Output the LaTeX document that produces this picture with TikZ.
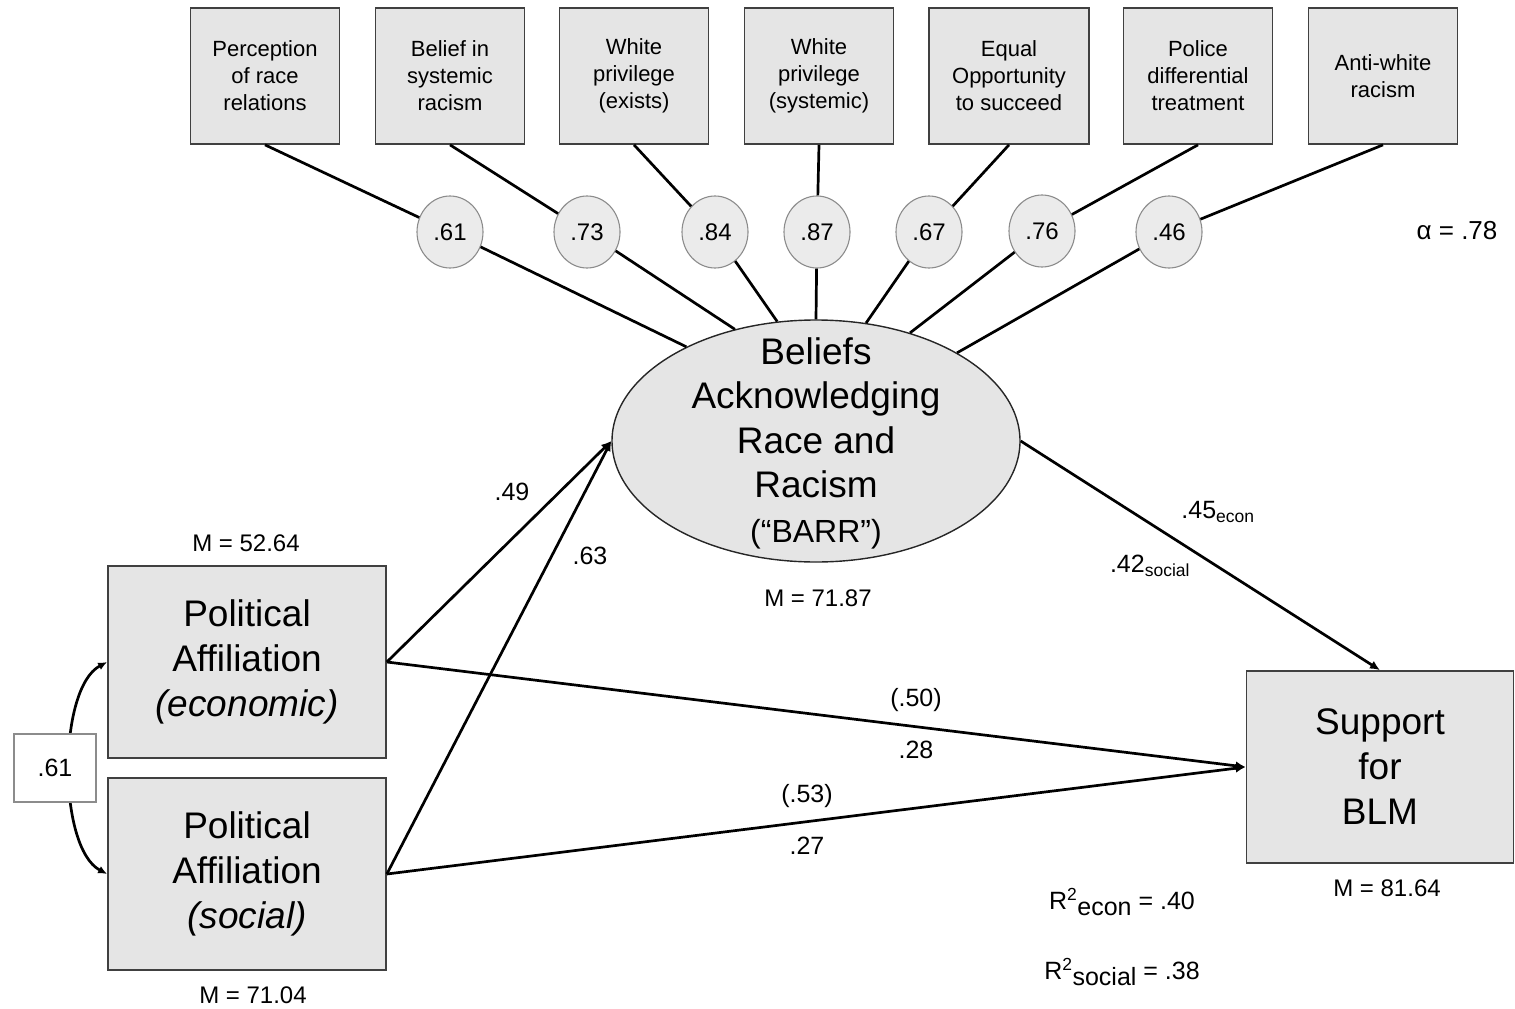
\documentclass[tikz,border=0pt]{standalone}
\usepackage{fontspec}
\setmainfont{Liberation Sans}
\usetikzlibrary{shapes.geometric}
\usetikzlibrary{arrows.meta}

\begin{document}
\begin{tikzpicture}[x=1pt, y=-1pt,
    itembox/.style={draw=black!75, line width=1.7pt, fill=black!10, rectangle, minimum width=149pt, minimum height=136pt, inner sep=0pt, align=center, font=\fontsize{22}{27}\selectfont},
    loadcirc/.style={draw=black!45, line width=1.1pt, fill=black!8, ellipse, minimum width=66pt, minimum height=72pt, inner sep=0pt, font=\fontsize{24}{28}\selectfont},
    bigbox/.style={draw=black!75, line width=1.7pt, fill=black!10, rectangle, minimum width=278pt, minimum height=192pt, inner sep=0pt, align=center, font=\fontsize{37}{45}\selectfont},
    link/.style={line width=2.7pt, black},
    arrowlink/.style={link, -{Latex[length=10pt, width=9pt]}},
    coef/.style={font=\fontsize{25}{30}\selectfont},
    meantext/.style={font=\fontsize{24}{28}\selectfont}]
    \useasboundingbox (0,0) rectangle (1515,1009);

    % Indicators and loadings
    \node[itembox] (perception) at (265,76) {Perception\\of race\\relations};
    \node[itembox] (systemic) at (450,76) {Belief in\\systemic\\racism};
    \node[itembox] (exists) at (634,76) {White\\privilege\\(exists)};
    \node[itembox] (privilege) at (819,76) {White\\privilege\\(systemic)};
    \node[itembox, minimum width=160pt] (opportunity) at (1009,76) {Equal\\Opportunity\\to succeed};
    \node[itembox] (police) at (1198,76) {Police\\differential\\treatment};
    \node[itembox] (antiwhite) at (1383,76) {Anti-white\\racism};

    \node[loadcirc] (lperception) at (450,232) {.61};
    \node[loadcirc] (lsystemic) at (587,232) {.73};
    \node[loadcirc] (lexists) at (715,232) {.84};
    \node[loadcirc] (lprivilege) at (817,232) {.87};
    \node[loadcirc] (lopportunity) at (929,232) {.67};
    \node[loadcirc] (lpolice) at (1042,231) {.76};
    \node[loadcirc] (lantiwhite) at (1169,232) {.46};

    \node[draw=black!85, line width=1.4pt, fill=black!10, ellipse, minimum width=408pt, minimum height=242pt, inner sep=0pt] (barr) at (816,441) {};
    \node[align=center, font=\fontsize{37}{44.5}\selectfont] (barrtext) at (816,443) {Beliefs\\Acknowledging\\Race and\\Racism\\{\fontsize{32}{40}\selectfont (“BARR”)}};

    \draw[link] (perception.south) -- (lperception);
    \draw[link] (systemic.south) -- (lsystemic);
    \draw[link] (exists.south) -- (lexists);
    \draw[link] (privilege.south) -- (lprivilege);
    \draw[link] (opportunity.south) -- (lopportunity);
    \draw[link] (police.south) -- (lpolice);
    \draw[link] (antiwhite.south) -- (lantiwhite);

    \draw[link] (lperception) -- (barr.144);
    \draw[link] (lsystemic) -- (barr.126);
    \draw[link] (lexists) -- (barr.108);
    \draw[link] (lprivilege) -- (barr.90);
    \draw[link] (lopportunity) -- (barr.67);
    \draw[link] (lpolice) -- (barr.49);
    \draw[link] (lantiwhite) -- (barr.32);

    \node[font=\fontsize{26}{30}\selectfont] (alpha) at (1457,231) {α = .78};

    % Predictors and outcome
    \node[bigbox] (econ) at (247,662) {Political\\Affiliation\\\textit{(economic)}};
    \node[bigbox] (social) at (247,874) {Political\\Affiliation\\\textit{(social)}};
    \node[bigbox, minimum width=267pt] (blm) at (1380,767) {Support\\for\\BLM};

    \draw[link, {Latex[length=9pt, width=8pt]}-{Latex[length=9pt, width=8pt]}] (econ.west) to[out=208, in=152, looseness=0.68] (social.west);
    \node[draw=black!45, line width=1.4pt, fill=white, minimum width=82pt, minimum height=68pt, inner sep=0pt, font=\fontsize{25}{30}\selectfont] (corr) at (55,768) {.61};

    \draw[arrowlink] (econ.east) -- (barr.west);
    \draw[arrowlink] (social.east) -- (barr.west);
    \draw[arrowlink] (econ.east) -- (blm.west);
    \draw[arrowlink] (social.east) -- (blm.west);
    \draw[arrowlink] (barr.east) -- (blm.north);

    \node[coef] (b49) at (512,492) {.49};
    \node[coef] (b63) at (590,556) {.63};
    \node[coef] (c50) at (916,700) {(.50)};
    \node[coef] (d28) at (916,750) {.28};
    \node[coef] (c53) at (807,796) {(.53)};
    \node[coef] (d27) at (807,846) {.27};
    \node[coef] (b45) at (1218,512) {.45\textsubscript{econ}};
    \node[coef] (b42) at (1150,566) {.42\textsubscript{social}};

    \node[meantext] (meanecon) at (246,543) {M = 52.64};
    \node[meantext] (meansocial) at (253,995) {M = 71.04};
    \node[meantext] (meanbarr) at (818,598) {M = 71.87};
    \node[meantext] (meanblm) at (1387,888) {M = 81.64};

    \node[coef] (r2econ) at (1122,902) {R\textsuperscript{2}\raisebox{-6pt}{econ} = .40};
    \node[coef] (r2social) at (1122,972) {R\textsuperscript{2}\raisebox{-6pt}{social} = .38};
\end{tikzpicture}
\end{document}
